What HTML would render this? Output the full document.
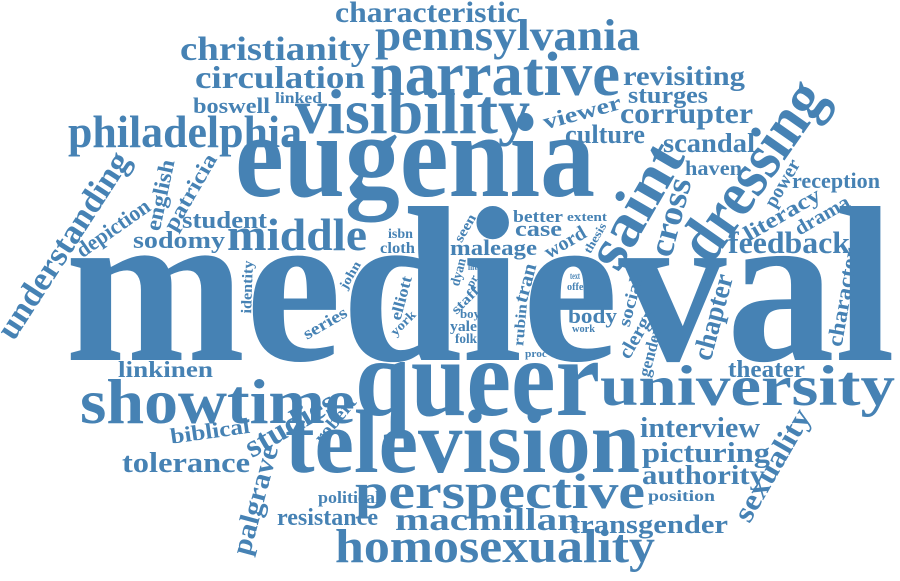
<!DOCTYPE html>
<html><head><meta charset="utf-8">
<style>
html,body{margin:0;padding:0;background:#fff;width:900px;height:581px;overflow:hidden}
svg text{font-family:"Liberation Serif",serif;font-weight:bold;fill:#4682b4}
</style></head>
<body>
<svg id="cloud" width="900" height="581" viewBox="0 0 900 581" xmlns="http://www.w3.org/2000/svg"></svg>
<script>
// horizontal words: [text, x1, x2, baseline, size]
const hWords = [
 ["medieval",65,895,360,222],["eugenia",235,595,196,120],["queer",355,600,415,110],
 ["television",285,640,472,90],["visibility",295,530,133,64],["narrative",370,620,95,62],
 ["pennsylvania",375,640,50,44],["characteristic",335,520,22,30],["christianity",180,370,60,34],
 ["circulation",195,365,88,32],["boswell",193,270,113,22],["linked",275,322,103,16],
 ["philadelphia",68,302,147,46],["student",182,267,228,24],["sodomy",133,225,248,24],
 ["middle",227,367,250,46],["linkinen",118,213,377,23],["showtime",80,355,423,64],
 ["tolerance",122,250,472,28],["political",318,380,503,17],["resistance",277,378,525,24],
 ["homosexuality",335,655,562,48],["perspective",355,645,508,50],["macmillan",395,580,530,32],
 ["transgender",570,728,533,26],["interview",640,760,437,28],["picturing",642,770,462,28],
 ["authority",642,765,484,27],["position",648,715,501,16],["university",600,895,405,57],
 ["theater",728,805,377,24],["feedback",728,850,253,31],["reception",792,880,188,22],
 ["haven",685,742,175,21],["scandal",663,755,152,27],["corrupter",620,753,123,30],
 ["sturges",628,708,103,24],["revisiting",623,745,85,27],["culture",565,645,143,26],
 ["body",568,617,323,22],["work",572,595,332,11],["text",570,580,279,9],["offer",567,588,290,10],
 ["extent",567,607,221,13],["better",513,563,222,17],["case",515,562,236,22],
 ["maleage",450,537,255,22],["isbn",388,413,238,14],["cloth",380,415,253,16],
 ["boy",460,480,318,13],["yale",450,477,331,15],["folk",455,477,343,14],["proc",525,547,357,11],
 ["life",468,478,270,7]
];
// rotated words: [text, centerX, centerY, size, angleDeg, length]
const rWords = [
 ["dressing",752,170,64,-55,205],["saint",635,205,60,-60,135],["cross",670,217,35,-75,80],
 ["power",782,183,20,-60,52],["literacy",782,214,22,-30,85],["drama",822,215,20,-30,60],
 ["character",843,297,22,-80,100],["chapter",713,317,28,-75,88],["gender",650,352,17,-75,50],
 ["clergy",637,333,20,-60,55],["social",630,302,18,-75,50],["thesis",595,238,12,-60,33],
 ["word",565,242,20,-30,45],["seen",465,228,14,-60,30],["elliott",401,298,16,-75,45],
 ["york",403,323,13,-45,30],["dyan",458,272,14,-75,28],["pr",472,281,12,-60,12],
 ["staff",465,300,14,-45,33],["tran",525,283,20,-75,40],["rubin",520,325,15,-85,42],
 ["viewer",582,112,22,-15,80],["understanding",63,245,34,-57,216],["depiction",113,228,22,-35,85],
 ["english",160,195,22,-78,72],["patricia",190,192,22,-60,85],["identity",247,287,15,-88,53],
 ["john",350,275,13,-60,30],["series",325,323,17,-30,48],["biblical",210,431,22,-8,80],
 ["studies",290,424,32,-30,100],["robert",335,420,18,-50,55],["palgrave",255,500,28,-75,112],
 ["sexuality",772,465,30,-60,125]
];
const svg = document.getElementById('cloud');
const NS = "http://www.w3.org/2000/svg";
function mk(t, size, len){
  const el = document.createElementNS(NS,'text');
  el.textContent = t;
  el.setAttribute('font-size', size);
  el.setAttribute('text-anchor','middle');
  el.setAttribute('textLength', len);
  el.setAttribute('lengthAdjust','spacingAndGlyphs');
  
  
  return el;
}
hWords.forEach(w=>{
  const el = mk(w[0], w[4], w[2]-w[1]);
  el.setAttribute('x', (w[1]+w[2])/2);
  el.setAttribute('y', w[3]);
  svg.appendChild(el);
});
rWords.forEach(w=>{
  const el = mk(w[0], w[3], w[5]);
  el.setAttribute('x', 0);
  el.setAttribute('y', (w[3]*0.33).toFixed(1));
  el.setAttribute('transform', 'translate('+w[1]+','+w[2]+') rotate('+w[4]+')');
  svg.appendChild(el);
});
</script>
</body></html>
